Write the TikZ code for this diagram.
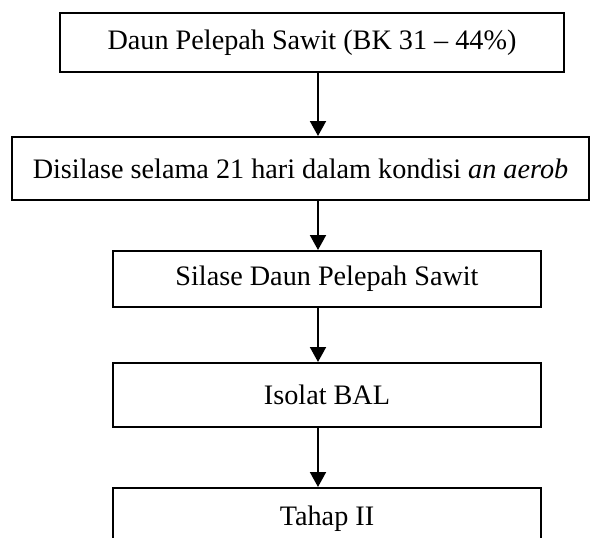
\documentclass[tikz,border=0pt]{standalone}
\usepackage{fontspec}
\setmainfont{Liberation Serif}
\usetikzlibrary{arrows.meta}
\tikzset{
  stepbox/.style={draw=black, line width=2pt, inner sep=0pt, align=center,
    font=\fontsize{28.2}{32}\selectfont},
  arr/.style={line width=2pt, -{Triangle[width=16pt,length=15pt]}}
}
\begin{document}
\begin{tikzpicture}[x=1pt,y=-1pt]
\useasboundingbox (0,0) rectangle (590,538);
\clip (0,0) rectangle (590,538);
\fill[white] (0,0) rectangle (590,538);
\node[stepbox, minimum width=504pt, minimum height=59.5pt] (b1) at (312,42.25) {Daun Pelepah Sawit (BK 31 – 44\%)};
\node[stepbox, minimum width=577pt, minimum height=63pt] (b2) at (300.5,168.5) {Disilase selama 21 hari dalam kondisi \textit{an aerob}};
\node[stepbox, minimum width=428pt, minimum height=56pt] (b3) at (327,279) {Silase Daun Pelepah Sawit};
\node[stepbox, minimum width=428pt, minimum height=64pt] (b4) at (327,395) {Isolat BAL};
\node[stepbox, minimum width=428pt, minimum height=61pt] (b5) at (327,518.5) {Tahap II};
\coordinate (ax) at (318,0);
\draw[arr] (b1.south -| ax) -- (b2.north -| ax);
\draw[arr] (b2.south -| ax) -- (b3.north -| ax);
\draw[arr] (b3.south -| ax) -- (b4.north -| ax);
\draw[arr] (b4.south -| ax) -- (b5.north -| ax);
\end{tikzpicture}
\end{document}
